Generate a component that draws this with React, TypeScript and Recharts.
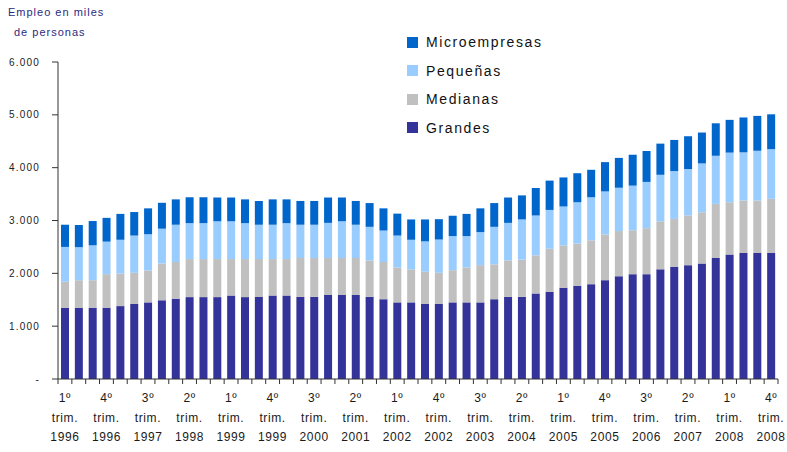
import { BarChart, Bar, XAxis, YAxis } from 'recharts';

const quarters = ['1º', '2º', '3º', '4º'];
const years = ['1996', '1997', '1998', '1999', '2000', '2001', '2002', '2003', '2004', '2005', '2006', '2007', '2008'];

// empleo en miles de personas, por tamaño de empresa
const grandes = [
  1350, 1350, 1350, 1350, 1380, 1420, 1450, 1490, 1520, 1550, 1550, 1550, 1580,
  1550, 1550, 1580, 1580, 1555, 1555, 1590, 1590, 1590, 1555, 1510, 1450, 1450,
  1420, 1420, 1450, 1450, 1450, 1510, 1555, 1555, 1620, 1650, 1725, 1765, 1795,
  1870, 1945, 1985, 1985, 2075, 2120, 2155, 2185, 2290, 2355, 2385, 2385, 2385,
];
const medianas = [
  490, 520, 520, 635, 615, 590, 605, 695, 695, 720, 720, 720, 690,
  720, 720, 690, 690, 735, 735, 700, 700, 700, 690, 705, 660, 625,
  610, 590, 610, 660, 705, 660, 690, 705, 720, 815, 805, 800, 830,
  865, 855, 830, 870, 910, 910, 940, 970, 1025, 990, 995, 995, 1025,
];
const pequenas = [
  660, 625, 660, 615, 640, 705, 685, 660, 705, 680, 680, 715, 715,
  680, 650, 650, 680, 630, 630, 665, 695, 630, 635, 595, 605, 560,
  575, 630, 645, 595, 625, 710, 710, 760, 755, 735, 735, 780, 815,
  815, 820, 845, 875, 880, 905, 880, 925, 910, 940, 910, 940, 940,
];
const micro = [
  420, 420, 460, 450, 490, 445, 490, 490, 480, 490, 490, 450, 450,
  450, 450, 480, 450, 450, 450, 480, 450, 450, 450, 420, 415, 385,
  415, 385, 385, 420, 450, 450, 480, 455, 520, 555, 550, 550, 520,
  555, 565, 585, 585, 590, 590, 620, 585, 615, 620, 660, 660, 660,
];

const yTicks = [0, 1000, 2000, 3000, 4000, 5000, 6000];

// stacking order bottom -> top
const series = [
  { key: 'grandes', name: 'Grandes', color: '#333399' },
  { key: 'medianas', name: 'Medianas', color: '#C0C0C0' },
  { key: 'pequenas', name: 'Pequeñas', color: '#99CCFF' },
  { key: 'micro', name: 'Microempresas', color: '#0066CC' },
];

const data = grandes.map((g, i) => ({
  q: quarters[i % 4],
  year: years[Math.floor(i / 4)],
  grandes: g,
  medianas: medianas[i],
  pequenas: pequenas[i],
  micro: micro[i],
}));

const W = 787;
const H = 452;
const LEFT = 58;
const RIGHT = 9;
const BAND = (W - LEFT - RIGHT) / data.length;
const FONT = '"Liberation Sans", Arial, sans-serif';

function fmt(v: number) {
  if (v === 0) return '-';
  const s = String(v);
  return s.slice(0, s.length - 3) + '.' + s.slice(-3);
}

function XTick(props: any) {
  const { x, y, index } = props;
  const d = data[index];
  const show = index % 3 === 0;
  return (
    <g>
      <line x1={x - BAND / 2} x2={x - BAND / 2} y1={y} y2={y + 5} stroke="#333" />
      {index === data.length - 1 && (
        <line x1={x + BAND / 2} x2={x + BAND / 2} y1={y} y2={y + 5} stroke="#333" />
      )}
      {show && (
        <text
          x={x}
          y={y}
          textAnchor="middle"
          fontSize={12}
          letterSpacing={0.6}
          fill="#1a1a1a"
          fontFamily={FONT}
        >
          <tspan x={x} dy={23}>{d.q}</tspan>
          <tspan x={x} dy={20}>trim.</tspan>
          <tspan x={x} dy={19}>{d.year}</tspan>
        </text>
      )}
    </g>
  );
}

export default function App() {
  return (
    <div style={{ position: 'absolute', left: 0, top: 0, width: W, height: H, background: '#fff' }}>
      <div
        style={{
          position: 'absolute',
          left: 8,
          top: 2,
          fontFamily: FONT,
          fontSize: 11,
          letterSpacing: 1,
          color: '#2b2b80',
          lineHeight: '20px',
        }}
      >
        <div>Empleo en miles</div>
        <div style={{ paddingLeft: 6 }}>de personas</div>
      </div>
      <div
        style={{
          position: 'absolute',
          left: 407,
          top: 28,
          fontFamily: FONT,
          fontSize: 14,
          letterSpacing: 1.6,
          color: '#111',
          zIndex: 2,
        }}
      >
        {[...series].reverse().map((s) => (
          <div key={s.key} style={{ display: 'flex', alignItems: 'center', height: 28.5 }}>
            <span style={{ width: 11, height: 11, background: s.color, marginRight: 8 }} />
            {s.name}
          </div>
        ))}
      </div>
      <BarChart
        width={W}
        height={H}
        data={data}
        margin={{ top: 62, right: RIGHT, bottom: 0, left: 0 }}
        barSize={8}
      >
        <XAxis
          dataKey="year"
          height={73}
          interval={0}
          tickSize={0}
          tickMargin={0}
          tick={<XTick />}
          axisLine={{ stroke: '#333' }}
          tickLine={false}
        />
        <YAxis
          width={LEFT}
          domain={[0, 6000]}
          ticks={yTicks}
          tickFormatter={fmt}
          tickSize={6}
          tickMargin={12}
          axisLine={{ stroke: '#333' }}
          tickLine={{ stroke: '#333' }}
          tick={{ fontSize: 10, fill: '#222', fontFamily: FONT, letterSpacing: 1.2 }}
        />
        {series.map((s) => (
          <Bar
            key={s.key}
            dataKey={s.key}
            name={s.name}
            stackId="a"
            fill={s.color}
            isAnimationActive={false}
          />
        ))}
      </BarChart>
    </div>
  );
}
